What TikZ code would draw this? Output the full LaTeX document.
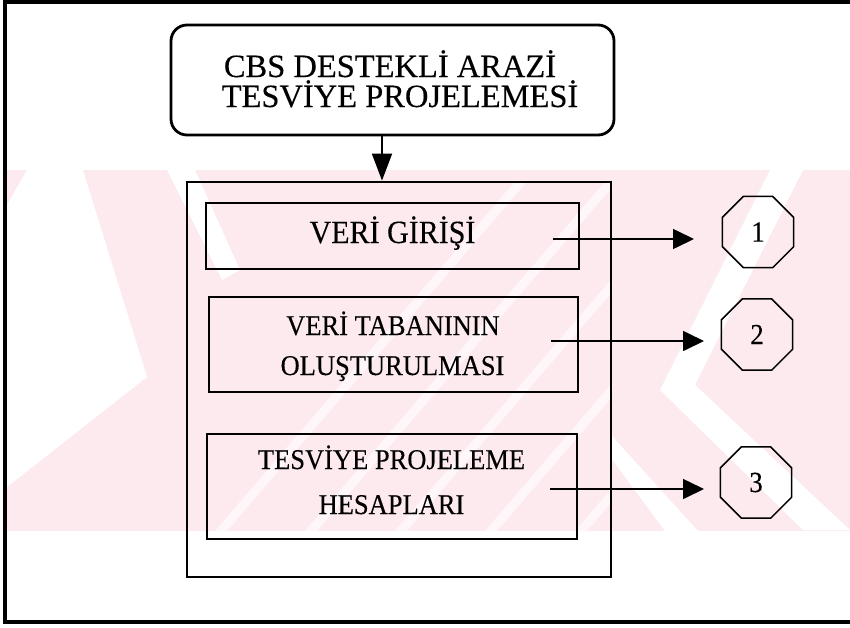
\documentclass[tikz,border=0pt]{standalone}
\usepackage{fontspec}
\setmainfont{Liberation Serif}[FakeBold=0.25]
\usetikzlibrary{arrows.meta,shapes.geometric}
\definecolor{wm}{RGB}{253,234,238}
\definecolor{wmlight}{RGB}{254,246,248}
\newcommand{\tallt}[1]{\scalebox{1}[1.08]{#1}}
\begin{document}
\begin{tikzpicture}[x=1pt,y=-1pt,
  frameline/.style={line width=3.5pt},
  titlebox/.style={draw,line width=2.8pt,rounded corners=16pt,minimum width=443pt,minimum height=110pt,inner sep=0pt},
  bigbox/.style={draw,line width=2.8pt,minimum width=424pt,minimum height=395pt,inner sep=0pt},
  stepbox/.style={draw,line width=1.8pt,inner sep=0pt},
  octo/.style={draw,line width=1.5pt,regular polygon,regular polygon sides=8,minimum size=77pt,inner sep=0pt,font=\fontsize{27}{27}\selectfont},
  titletext/.style={anchor=base,inner sep=0pt,font=\fontsize{32.5}{32.5}\selectfont},
  boxtext/.style={anchor=base,inner sep=0pt,font=\fontsize{26.5}{26.5}\selectfont},
  downarrow/.style={line width=1.8pt,-{Triangle[length=27pt,width=20pt]}},
  rightarrow/.style={line width=1.6pt,-{Triangle[length=21pt,width=20pt]}}
]
\useasboundingbox (0,0) rectangle (850,627);
\fill[white] (0,0) rectangle (850,627);

% watermark
\begin{scope}
\clip (7,170) rectangle (850,531);
\fill[wm] (7,170) rectangle (850,531);
\fill[white] (27,170) -- (83,170) -- (147,377) -- (7,487) -- (7,205) -- cycle;
\fill[white] (167,170) -- (195,170) -- (240,270) -- (222,280) -- cycle;
\fill[white] (770,170) -- (803,170) -- (695,385) -- (850,530) -- (803,530) -- (660,390) -- cycle;
\fill[white] (611,435) -- (611,458) -- (665,531) -- (698,531) -- cycle;
\begin{scope}
\clip (187,182) rectangle (611,577);
\foreach \bx in {215,305,395,485,575} {
  \fill[wmlight] (\bx,531) -- (\bx+12,531) -- (\bx+12+310,170) -- (\bx+310,170) -- cycle;
}
\end{scope}
\end{scope}

% outer frame (right side lies outside the picture)
\draw[frameline] (853,2) -- (5,2) -- (5,622) -- (853,622);

% boxes
\node[titlebox] (title) at (392.5,80) {};
\node[bigbox] (big) at (399,379.5) {};
\node[stepbox,minimum width=373pt,minimum height=66pt] (b1) at (392.5,236) {};
\node[stepbox,minimum width=369pt,minimum height=95pt] (b2) at (393.5,344.5) {};
\node[stepbox,minimum width=370pt,minimum height=105pt] (b3) at (392,486.5) {};

% texts
\node[titletext] (t1) at (390,77) {CBS DESTEKLİ ARAZİ};
\node[titletext] (t2) at (400,107) {TESVİYE PROJELEMESİ};
\node[boxtext,font=\fontsize{30}{30}\selectfont] (b1t) at (392.5,243) {\tallt{VERİ GİRİŞİ}};
\node[boxtext] (b2t1) at (393,335) {\tallt{VERİ TABANININ}};
\node[boxtext] (b2t2) at (392.5,375) {\tallt{OLUŞTURULMASI}};
\node[boxtext] (b3t1) at (391.5,469) {\tallt{TESVİYE PROJELEME}};
\node[boxtext] (b3t2) at (391.5,514) {\tallt{HESAPLARI}};

% octagons
\node[octo] (o1) at (758,232) {\tallt{1}};
\node[octo] (o2) at (757,334.5) {\tallt{2}};
\node[octo] (o3) at (756,482.5) {\tallt{3}};

% connectors
\coordinate (d0) at (382,80);
\draw[downarrow] (title.south -| d0) -- (big.north -| d0);

\coordinate (s1) at (553,239);
\coordinate (e1) at (694,239);
\coordinate (s2) at (551,341);
\coordinate (e2) at (704,341);
\coordinate (s3) at (550,489);
\coordinate (e3) at (704,489);
\draw[rightarrow] (s1) -- (e1);
\draw[rightarrow] (s2) -- (e2);
\draw[rightarrow] (s3) -- (e3);
\end{tikzpicture}
\end{document}
